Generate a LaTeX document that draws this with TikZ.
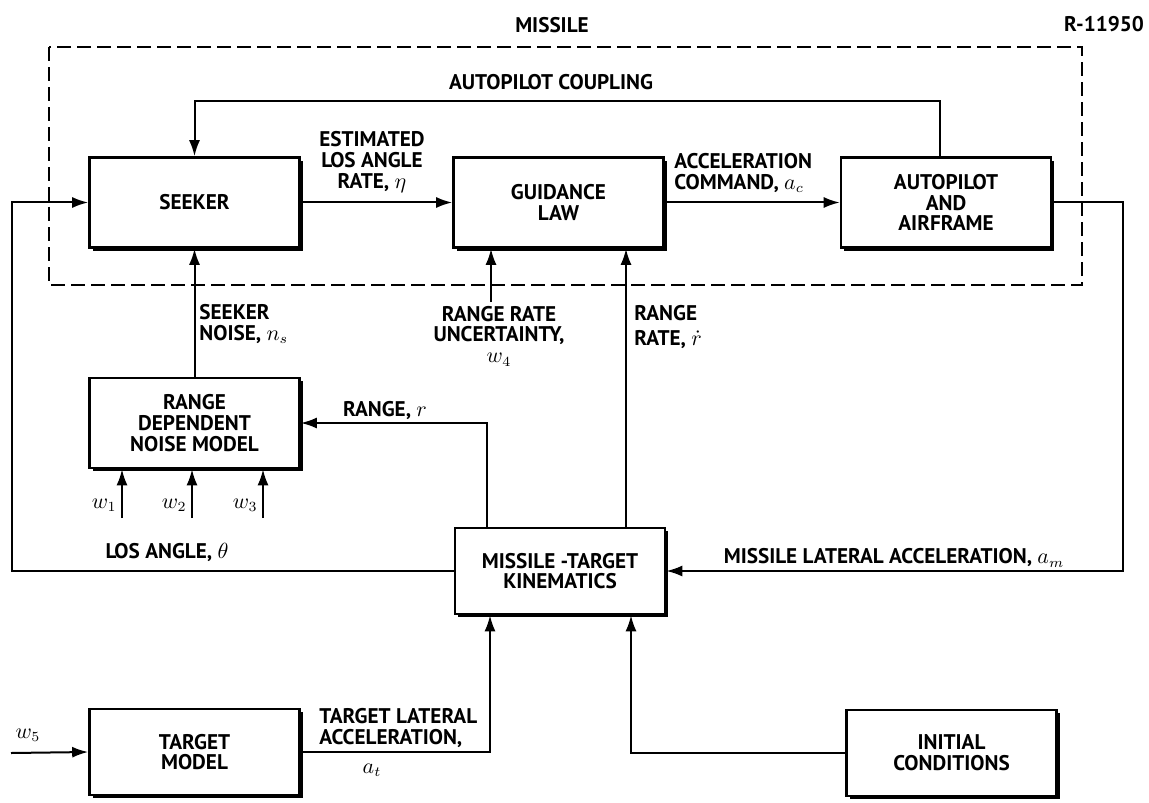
\documentclass[tikz,border=0pt]{standalone}
\usepackage{amsmath}
\usepackage{fontspec}
\setmainfont{PT Sans}
\usetikzlibrary{arrows.meta,shadows}

\begin{document}
\begin{tikzpicture}[x=0.5pt,y=-0.5pt,
        txt/.style={font=\bfseries\fontsize{10.6}{10.4}\selectfont, inner sep=0pt, align=center},
        blk/.style={txt, draw, line width=1.3pt, fill=white, minimum width=105pt, minimum height=45pt,
            drop shadow={shadow xshift=1.6pt, shadow yshift=-1.6pt, fill=black, opacity=1}},
        arr/.style={line width=1pt, -{Latex[length=8pt,width=5.5pt]}},
        ln/.style={line width=1pt}]
        \useasboundingbox (0,0) rectangle (1149,802);
        %missile boundary
            \draw [dashed, line width=1pt, dash pattern=on 7pt off 3pt] (49,47) rectangle (1082,285);
        %boxes
            \node[blk] (seeker) at (194.5,202.5) {SEEKER};
            \node[blk] (guid) at (558.5,202.5) {GUIDANCE\\LAW};
            \node[blk] (auto) at (946,202.5) {AUTOPILOT\\AND\\AIRFRAME};
            \node[blk] (noise) at (194.5,423) {RANGE\\DEPENDENT\\NOISE MODEL};
            \node[blk, minimum height=43pt] (kin) at (560,571) {MISSILE -TARGET\\KINEMATICS};
            \node[blk, minimum height=43pt] (target) at (194.5,752) {TARGET\\MODEL};
            \node[blk, minimum height=43pt] (ic) at (951.5,753) {INITIAL\\CONDITIONS};
        %free ends
            \coordinate (w1) at (122,518);
            \coordinate (w2) at (192,518);
            \coordinate (w3) at (263,518);
            \coordinate (w4) at (491,302);
            \coordinate (w5) at (11,753);
            \coordinate (lft) at (12,400);
            \coordinate (rgt) at (1123,400);
        % lines
            \draw [arr] (seeker) -- (guid);
            \draw [arr] (guid) -- (auto);
            \draw [arr] ([xshift=-3pt]auto.north) -- ++(0,-55) -| (seeker.north);
            \draw [arr] (auto.east) -| (rgt) |- (kin.east);
            \draw [arr] (kin.west) -| (lft) |- (seeker.west);
            \draw [arr] (noise) -- (seeker);
            \draw [arr] ([xshift=-36.5pt]kin.north) |- (noise.east);
            \draw [arr] ([xshift=33pt]kin.north) -- ([xshift=33pt]kin.north |- guid.south);
            \draw [arr] (w4) -- (w4 |- guid.south);
            \draw [arr] (w1) -- (w1 |- noise.south);
            \draw [arr] (w2) -- (w2 |- noise.south);
            \draw [arr] (w3) -- (w3 |- noise.south);
            \draw [arr] (target.east) -| ([xshift=-35pt]kin.south);
            \draw [arr] (ic.west) -| ([xshift=35.5pt]kin.south);
            \draw [arr] (w5) -- (target.west);
        %labels
            \node[txt] (lmis) at (552,25) {MISSILE};
            \node[txt] (lref) at (1104,24) {R-11950};
            \node[txt] (lcpl) at (551,82) {AUTOPILOT COUPLING};
            \node[txt] (leta) at (372,162) {ESTIMATED\\LOS ANGLE\\RATE, $\eta$};
            \node[txt, anchor=west, align=left] (lac) at (674,173) {ACCELERATION\\COMMAND, $a_c$};
            \node[txt, anchor=west, align=left] (lns) at (199,324) {SEEKER\\NOISE, $n_s$};
            \node[txt] (lunc) at (499,336) {RANGE RATE\\UNCERTAINTY,\\$w_4$};
            \node[txt, anchor=west, align=left] (lrr) at (634,327) {RANGE\\[2pt]RATE, $\dot r$};
            \node[txt] (lr) at (385,410) {RANGE, $r$};
            \node[txt, anchor=east] (lw1) at (117,505) {$w_1$};
            \node[txt, anchor=east] (lw2) at (187,505) {$w_2$};
            \node[txt, anchor=east] (lw3) at (258,505) {$w_3$};
            \node[txt] (llos) at (167,552) {LOS ANGLE, $\theta$};
            \node[txt] (lam) at (894,558) {MISSILE LATERAL ACCELERATION, $a_m$};
            \node[txt, anchor=west, align=left] (lat) at (319,728) {TARGET LATERAL\\ACCELERATION,};
            \node[txt] (lat2) at (372,770) {$a_t$};
            \node[txt] (lw5) at (28,735) {$w_5$};
\end{tikzpicture}
\end{document}
